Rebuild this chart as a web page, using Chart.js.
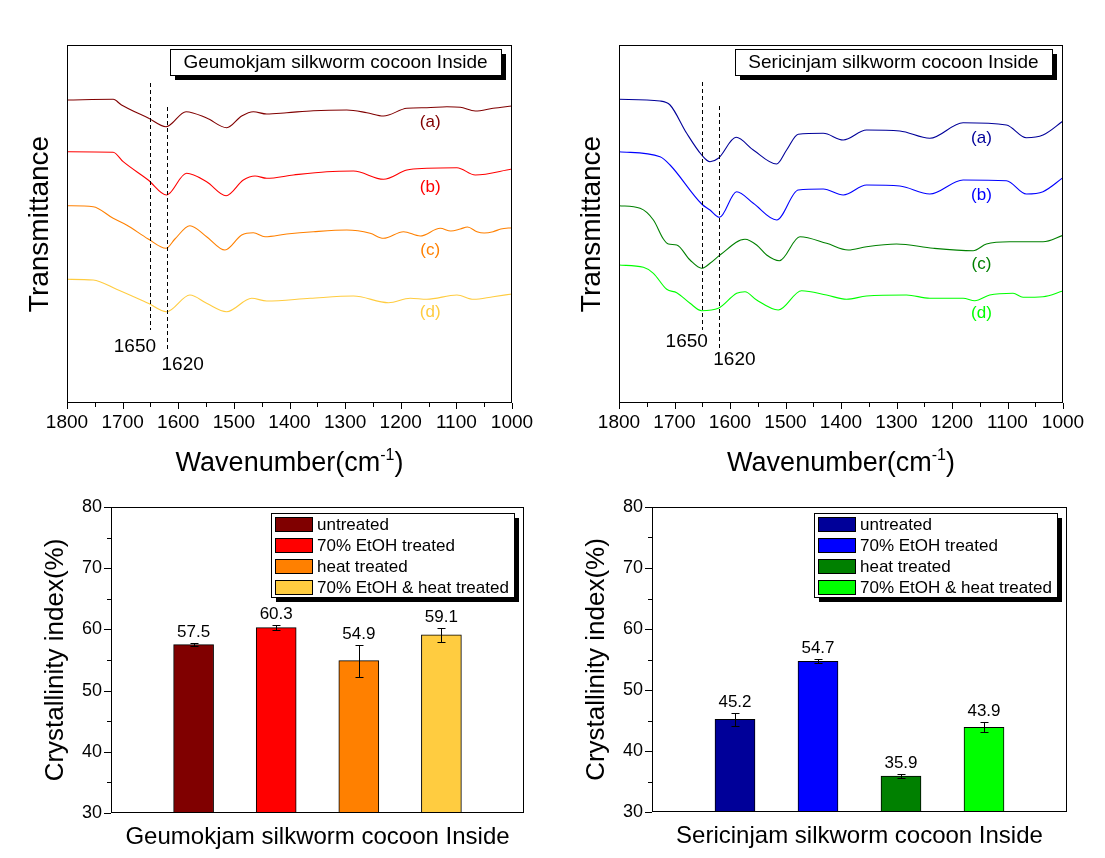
<!DOCTYPE html>
<html>
<head>
<meta charset="utf-8">
<script src="https://cdn.jsdelivr.net/npm/chart.js@4.4.1/dist/chart.umd.min.js"></script>
<style>
  html, body { margin: 0; padding: 0; background: #fff; }
  #fig { position: relative; width: 1105px; height: 858px; overflow: hidden; background: #fff; }
  canvas { position: absolute; }
</style>
</head>
<body>
<div id="fig">
  <canvas id="ftirGeum" width="552" height="480" style="left:0;top:0"></canvas>
  <canvas id="ftirSeri" width="553" height="480" style="left:552px;top:0"></canvas>
  <canvas id="ciGeum" width="552" height="378" style="left:0;top:480px"></canvas>
  <canvas id="ciSeri" width="553" height="378" style="left:552px;top:480px"></canvas>
</div>
<script>
const FONT = "'Liberation Sans', Arial, sans-serif";

// FTIR spectra, [wavenumber cm-1, transmittance a.u.]
const geumA = [[1800,303],[1717,303.7],[1702,298],[1654,285],[1622,276.3],[1615,278],[1586,291.3],[1549,285],[1513,275.3],[1486,287],[1465,291.3],[1441,289],[1405,290.3],[1357,292.3],[1297,293],[1261,290.3],[1231,287],[1189,294.7],[1153,295.3],[1117,296.3],[1093,295.7],[1066,292],[1034,294.7],[1000,297]];
const geumB = [[1800,251.3],[1717,250.7],[1699,241.3],[1654,223],[1621,208],[1615,210],[1585,229.7],[1549,221.3],[1514,207.3],[1483,223],[1462,227],[1441,224.7],[1393,228],[1333,231.3],[1285,232],[1231,223.7],[1189,233],[1153,234.7],[1099,235.3],[1066,228],[1000,234]];
const geumC = [[1800,197.3],[1753,196.3],[1717,184.7],[1693,178],[1654,164],[1622,154.7],[1606,164],[1579,177.3],[1549,166.3],[1516,153],[1486,168],[1465,170.3],[1444,166.3],[1405,169],[1357,171.3],[1297,173],[1255,169.7],[1231,164.7],[1195,171.3],[1165,167],[1129,174.7],[1110,172],[1093,174],[1080,176],[1063,171.3],[1050,170],[1034,171.3],[1020,174],[1000,175.3]];
const geumD = [[1800,123.7],[1753,123],[1711,113.7],[1654,99.7],[1621,91.3],[1579,108],[1549,99.7],[1513,91.3],[1468,104.7],[1441,102],[1363,104.7],[1285,107],[1222,100.3],[1183,104.7],[1153,103.7],[1099,108],[1069,103.7],[1034,106.3],[1000,109]];

const seriA = [[1800,303.7],[1726,302],[1708,298],[1678,269.7],[1651,248],[1636,241.3],[1621,244.7],[1589,265.7],[1558,253],[1516,239],[1498,253],[1477,268.7],[1432,269.7],[1396,263],[1354,273],[1294,272],[1240,264.7],[1180,280.3],[1102,278],[1066,265.3],[1036,268],[1000,282]];
const seriB = [[1800,251.3],[1726,246.3],[1708,238],[1651,199],[1636,193],[1619,185.7],[1588,211.3],[1558,199.7],[1516,183],[1477,213],[1432,214],[1396,208],[1354,218],[1294,217],[1240,209],[1180,223],[1102,222.3],[1066,209],[1036,211.3],[1000,225.3]];
const seriC = [[1800,197.3],[1762,194.7],[1738,183],[1720,164],[1711,159],[1696,158],[1672,143],[1651,134.7],[1636,139.7],[1618,148],[1573,163.7],[1552,158],[1534,148],[1511,142.3],[1474,166.3],[1426,159.7],[1387,153],[1354,156.3],[1300,159],[1234,154.7],[1162,152.3],[1138,159],[1096,161.3],[1036,161.3],[1000,167.7]];
const seriD = [[1800,138],[1756,135.7],[1738,129.7],[1714,113.7],[1696,110.3],[1672,99.7],[1651,92.3],[1621,94.7],[1588,109.7],[1573,111.3],[1552,103],[1513,93],[1471,112.3],[1426,108],[1390,103.7],[1354,107],[1282,108],[1240,104.7],[1180,104.7],[1159,102.3],[1132,108],[1090,109.7],[1072,105.7],[1036,106.3],[1000,112]];

const curveLetters = ['(a)', '(b)', '(c)', '(d)'];
const markerWavenumbers = [1650, 1620];

// crystallinity index (%)
const treatments = ['untreated', '70% EtOH treated', 'heat treated', '70% EtOH & heat treated'];
const geumCrystallinity = [57.5, 60.3, 54.9, 59.1];
const geumError = [0.2, 0.35, 2.6, 1.2];
const seriCrystallinity = [45.2, 54.7, 35.9, 43.9];
const seriError = [1.1, 0.35, 0.3, 0.8];

const geumColors = ['#800000', '#FF0000', '#FF8000', '#FFCC40'];
const seriColors = ['#000099', '#0000FF', '#008000', '#00FF00'];

Chart.defaults.font.family = FONT;
Chart.defaults.color = '#000';

function frame(ctx, a) {
  ctx.strokeStyle = '#000';
  ctx.lineWidth = 1;
  ctx.strokeRect(Math.round(a.left) + 0.5, Math.round(a.top) + 0.5, Math.round(a.width) - 1, Math.round(a.height) - 1);
}

function shadowBox(ctx, bx, by, bw, bh) {
  ctx.fillStyle = '#000';
  ctx.fillRect(bx + 5, by + 5, bw, bh);
  ctx.fillStyle = '#fff';
  ctx.fillRect(bx, by, bw, bh);
  ctx.strokeStyle = '#000';
  ctx.lineWidth = 1;
  ctx.strokeRect(bx + 0.5, by + 0.5, bw, bh);
}

const spectrumDecor = {
  id: 'spectrumDecor',
  afterDraw(chart, args, o) {
    const { ctx, chartArea: a, scales: { x, y } } = chart;
    ctx.save();
    frame(ctx, a);
    // outward ticks on wavenumber axis
    for (let v = 1000; v <= 1800; v += 50) {
      const px = Math.round(x.getPixelForValue(v)) + 0.5;
      ctx.beginPath();
      ctx.moveTo(px, a.bottom);
      ctx.lineTo(px, a.bottom + (v % 100 ? 4 : 6));
      ctx.stroke();
    }
    // dashed marker lines
    ctx.setLineDash([4, 3]);
    markerWavenumbers.forEach((wn, i) => {
      const px = Math.round(x.getPixelForValue(wn)) + 0.5;
      ctx.beginPath();
      ctx.moveTo(px, y.getPixelForValue(o.markerTop[i]));
      ctx.lineTo(px, y.getPixelForValue(o.markerBottom[i]));
      ctx.stroke();
    });
    ctx.setLineDash([]);
    ctx.textAlign = 'center';
    ctx.textBaseline = 'middle';
    ctx.fillStyle = '#000';
    ctx.font = '19px ' + FONT;
    markerWavenumbers.forEach((wn, i) => {
      ctx.fillText(String(wn), x.getPixelForValue(wn) + (i === 0 ? -15.5 : 15.5), y.getPixelForValue(o.markerLabel[i]));
    });
    // curve letters
    ctx.font = '17px ' + FONT;
    chart.data.datasets.forEach((ds, i) => {
      ctx.fillStyle = ds.borderColor;
      ctx.fillText(ds.label, x.getPixelForValue(1147), y.getPixelForValue(o.letterT[i]));
    });
    // title box
    ctx.font = '19px ' + FONT;
    const bw = Math.round(ctx.measureText(o.box).width + 27), bh = 26;
    const bx = Math.round(a.right - 11 - bw), by = Math.round(a.top + 4);
    shadowBox(ctx, bx, by, bw, bh);
    ctx.fillStyle = '#000';
    ctx.fillText(o.box, bx + bw / 2, by + bh / 2 + 1);
    // y title
    ctx.save();
    ctx.translate(a.left - 19, (a.top + a.bottom) / 2);
    ctx.rotate(-Math.PI / 2);
    ctx.font = '28px ' + FONT;
    ctx.textBaseline = 'alphabetic';
    ctx.fillText('Transmittance', 0, 0);
    ctx.restore();
    // x title with superscript
    ctx.textAlign = 'left';
    ctx.textBaseline = 'alphabetic';
    ctx.font = '27px ' + FONT;
    const main = 'Wavenumber(cm', w1 = ctx.measureText(main).width, w3 = ctx.measureText(')').width;
    ctx.font = '16px ' + FONT;
    const w2 = ctx.measureText('-1').width;
    let sx = (a.left + a.right) / 2 - (w1 + w2 + w3) / 2;
    const base = a.bottom + 68;
    ctx.font = '27px ' + FONT;
    ctx.fillText(main, sx, base);
    ctx.font = '16px ' + FONT;
    ctx.fillText('-1', sx + w1, base - 11);
    ctx.font = '27px ' + FONT;
    ctx.fillText(')', sx + w1 + w2, base);
    ctx.restore();
  }
};

const barDecor = {
  id: 'barDecor',
  afterDraw(chart, args, o) {
    const { ctx, chartArea: a, scales: { y } } = chart;
    ctx.save();
    frame(ctx, a);
    for (let v = 30; v <= 80; v += 5) {
      const py = Math.round(y.getPixelForValue(v)) + 0.5;
      ctx.beginPath();
      ctx.moveTo(a.left, py);
      ctx.lineTo(a.left - (v % 10 ? 4 : 7), py);
      ctx.stroke();
    }
    // error bars and value labels
    ctx.font = '17px ' + FONT;
    ctx.textAlign = 'center';
    ctx.textBaseline = 'alphabetic';
    ctx.fillStyle = '#000';
    chart.data.datasets.forEach((ds, i) => {
      const el = chart.getDatasetMeta(i).data[0];
      const cx = Math.round(el.x) + 0.5;
      const v = ds.data[0].y, e = o.errors[i];
      const yt = Math.round(y.getPixelForValue(v + e)) + 0.5;
      const yb = Math.round(y.getPixelForValue(v - e)) + 0.5;
      ctx.beginPath();
      ctx.moveTo(cx, yt); ctx.lineTo(cx, yb);
      ctx.moveTo(cx - 4, yt); ctx.lineTo(cx + 4, yt);
      ctx.moveTo(cx - 4, yb); ctx.lineTo(cx + 4, yb);
      ctx.stroke();
      ctx.fillText(v.toFixed(1), el.x, yt - 7);
    });
    // legend box
    ctx.textAlign = 'left';
    ctx.textBaseline = 'middle';
    const maxW = Math.max(...chart.data.datasets.map(d => ctx.measureText(d.label).width));
    const bw = Math.round(46 + maxW + 5), bh = 84;
    const bx = Math.round(a.right - 10 - bw), by = Math.round(a.top + 6);
    shadowBox(ctx, bx, by, bw, bh);
    chart.data.datasets.forEach((ds, i) => {
      const sy = by + 4 + i * 21;
      ctx.fillStyle = ds.backgroundColor;
      ctx.fillRect(bx + 4, sy, 37, 14);
      ctx.strokeRect(bx + 4.5, sy + 0.5, 37, 14);
      ctx.fillStyle = '#000';
      ctx.fillText(ds.label, bx + 46, sy + 8);
    });
    // axis titles
    ctx.save();
    ctx.translate(a.left - 48, (a.top + a.bottom) / 2);
    ctx.rotate(-Math.PI / 2);
    ctx.font = '26px ' + FONT;
    ctx.textAlign = 'center';
    ctx.textBaseline = 'alphabetic';
    ctx.fillText('Crystallinity index(%)', 0, 0);
    ctx.restore();
    ctx.font = '24px ' + FONT;
    ctx.textAlign = 'center';
    ctx.textBaseline = 'alphabetic';
    ctx.fillText(o.xTitle, (a.left + a.right) / 2, a.bottom + 31);
    ctx.restore();
  }
};

function spectrumChart(id, curves, colors, box, padRight, markerTop, markerBottom, markerLabel, letterT) {
  return new Chart(document.getElementById(id), {
    type: 'line',
    data: {
      datasets: curves.map((c, i) => ({
        label: curveLetters[i],
        data: c.map(p => ({ x: p[0], y: p[1] })),
        borderColor: colors[i],
        borderWidth: 1.1,
        pointRadius: 0,
        cubicInterpolationMode: 'monotone'
      }))
    },
    options: {
      responsive: false,
      animation: false,
      devicePixelRatio: 1,
      layout: { padding: { left: 67, top: 45, right: padRight, bottom: 0 } },
      plugins: {
        legend: { display: false },
        tooltip: { enabled: false },
        spectrumDecor: { box, markerTop, markerBottom, markerLabel, letterT }
      },
      scales: {
        x: {
          type: 'linear', min: 1000, max: 1800, reverse: true,
          afterFit: s => { s.height = 77; },
          grid: { display: false, drawTicks: false },
          border: { display: false },
          ticks: { stepSize: 100, padding: 8, font: { size: 19 }, color: '#000', autoSkip: false, maxRotation: 0,
                   callback: v => String(v) }
        },
        y: { display: false, min: 0, max: 358 }
      }
    },
    plugins: [spectrumDecor]
  });
}

function crystallinityChart(id, values, errors, colors, xTitle, padRight, padBottom, axisW) {
  return new Chart(document.getElementById(id), {
    type: 'bar',
    data: {
      datasets: treatments.map((t, i) => ({
        label: t,
        data: [{ x: i + 1, y: values[i] }],
        backgroundColor: colors[i],
        borderColor: '#000',
        borderWidth: 1,
        barThickness: 40,
        grouped: false
      }))
    },
    options: {
      responsive: false,
      animation: false,
      devicePixelRatio: 1,
      layout: { padding: { left: 0, top: 27, right: padRight, bottom: padBottom } },
      plugins: {
        legend: { display: false },
        tooltip: { enabled: false },
        barDecor: { errors, xTitle }
      },
      scales: {
        x: { type: 'linear', min: 0, max: 5, offset: false, display: false },
        y: {
          min: 30, max: 80,
          afterFit: s => { s.width = axisW; },
          grid: { display: false, drawTicks: false },
          border: { display: false },
          ticks: { stepSize: 10, padding: 9, font: { size: 18 }, color: '#000' }
        }
      }
    },
    plugins: [barDecor]
  });
}

spectrumChart('ftirGeum', [geumA, geumB, geumC, geumD], geumColors,
  'Geumokjam silkworm cocoon Inside', 40, [320, 296], [73, 53], [56, 38], [281, 216, 153, 91]);
spectrumChart('ftirSeri', [seriA, seriB, seriC, seriD], seriColors,
  'Sericinjam silkworm cocoon Inside', 42, [321, 297], [73, 55], [61, 43], [265, 208, 139, 90]);
crystallinityChart('ciGeum', geumCrystallinity, geumError, geumColors,
  'Geumokjam silkworm cocoon Inside', 28, 45, 111);
crystallinityChart('ciSeri', seriCrystallinity, seriError, seriColors,
  'Sericinjam silkworm cocoon Inside', 38, 46, 100);
</script>
</body>
</html>
